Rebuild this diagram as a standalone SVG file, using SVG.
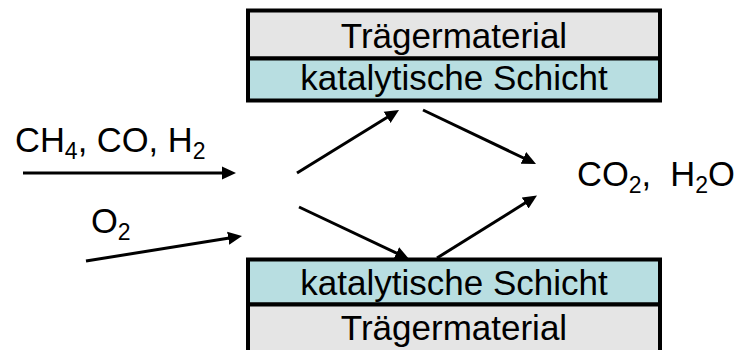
<svg xmlns="http://www.w3.org/2000/svg" width="739" height="350" viewBox="0 0 739 350">
<style>
text{font-family:"Liberation Sans",Arial,sans-serif;fill:#000}
.lbl{font-size:35px;text-anchor:middle}
.f{font-size:34.5px}
.sub{font-size:23px}
.tr{fill:#e5e5e5;stroke:#000;stroke-width:4}
.ka{fill:#b8dee1;stroke:#000;stroke-width:4}
.c{stroke:#000;stroke-width:3;fill:none;marker-end:url(#ah)}
</style>
<defs>
<marker id="ah" markerUnits="userSpaceOnUse" markerWidth="16" markerHeight="14" viewBox="0 0 16 14" refX="6" refY="7" orient="auto">
<path d="M0,0.5 L14,7 L0,13.5 z" fill="#000"/>
</marker>
</defs>
<rect width="739" height="350" fill="#fff"/>
<g id="top-support">
<rect class="tr" x="248" y="10.5" width="412" height="48"/>
<text class="lbl" x="454" y="48">Trägermaterial</text>
</g>
<g id="top-catalyst">
<rect class="ka" x="248" y="58.5" width="412" height="42"/>
<text class="lbl" x="454" y="90">katalytische Schicht</text>
</g>
<g id="bottom-catalyst">
<rect class="ka" x="248" y="259.5" width="412" height="45"/>
<text class="lbl" x="454" y="295">katalytische Schicht</text>
</g>
<g id="bottom-support">
<rect class="tr" x="248" y="304.5" width="412" height="60"/>
<text class="lbl" x="454" y="340">Trägermaterial</text>
</g>
<g id="feed">
<text class="f" x="15" y="152">CH<tspan class="sub" dy="7">4</tspan><tspan dy="-7">, CO, H</tspan><tspan class="sub" dy="7">2</tspan></text>
</g>
<g id="oxygen">
<text class="f" x="91" y="233">O<tspan class="sub" dy="7">2</tspan></text>
</g>
<g id="products">
<text class="f" x="577" y="186">CO<tspan class="sub" dy="7">2</tspan><tspan dy="-7">,&#160; H</tspan><tspan class="sub" dy="7">2</tspan><tspan dy="-7">O</tspan></text>
</g>
<g id="connectors">
<line class="c" x1="23" y1="173" x2="228" y2="173"/>
<line class="c" x1="86" y1="261" x2="234.1" y2="237.3"/>
<line class="c" x1="297" y1="173" x2="392.2" y2="114.2"/>
<line class="c" x1="423" y1="110" x2="528.8" y2="160.5"/>
<line class="c" x1="299" y1="207" x2="401.8" y2="255.6"/>
<line class="c" x1="437" y1="258" x2="530.2" y2="199.8"/>
</g>
</svg>
